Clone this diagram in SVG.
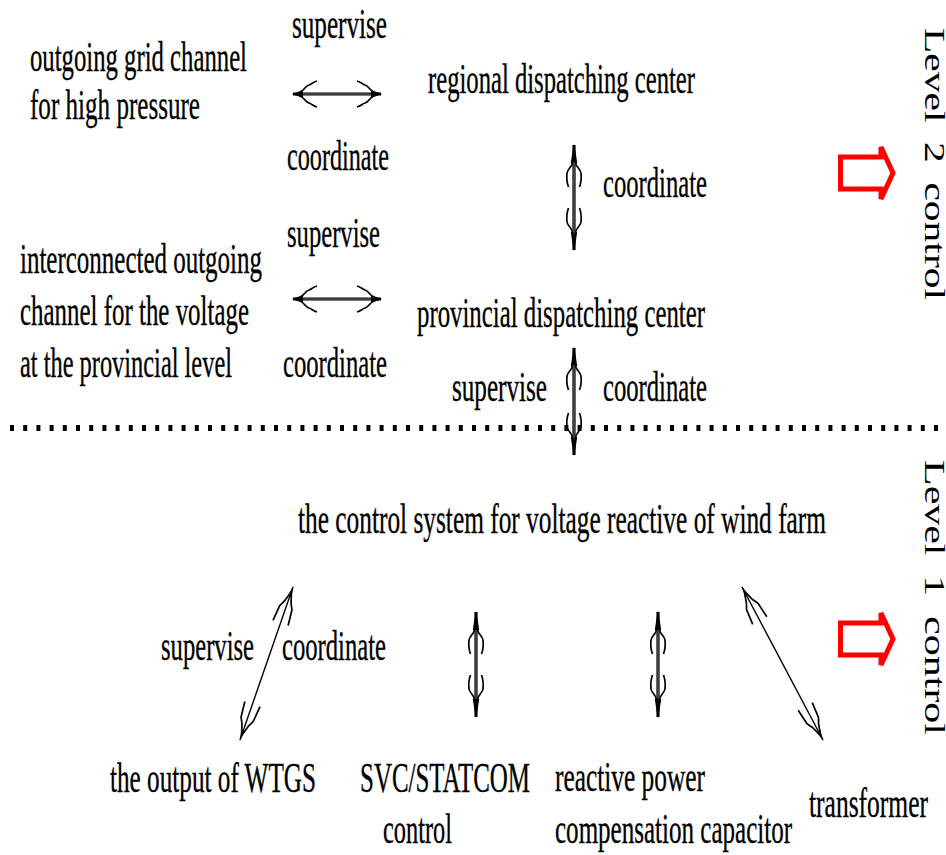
<svg xmlns="http://www.w3.org/2000/svg" width="946" height="855" viewBox="0 0 946 855">
  <defs>
    <style>
      .t { font-family: "Liberation Serif", "Times New Roman", serif; font-size: 43px; fill: #000; stroke: #000; stroke-width: 0.35; }
      .lv { font-family: "Liberation Serif", "Times New Roman", serif; font-size: 45px; fill: #000; word-spacing: 10px; }
      .shaft { stroke: #000; stroke-width: 3.2; fill: none; }
      .core { stroke: #8a8a8a; stroke-width: 0.9; fill: none; }
      .thin { stroke: #000; stroke-width: 1.4; fill: none; }
      .barb { fill: none; stroke: #000; stroke-width: 1.7; }
      .blk { fill: #000; }
      .red { fill: #fff; stroke: #ff0000; stroke-width: 5; stroke-linejoin: miter; }
      .dots { stroke: #000; stroke-width: 6; stroke-dasharray: 4 9.2; fill: none; }
    </style>
    <!-- short, wide head for horizontal double arrows -->
    <marker id="hd" markerUnits="userSpaceOnUse" viewBox="-30 -16 34 32" refX="0" refY="0" markerWidth="34" markerHeight="32" orient="auto-start-reverse" overflow="visible">
      <path class="blk" d="M1,0 L-10,-4 L-10,4 Z"/>
      <path class="barb" d="M-7,-2 C-11,-3 -12,-8 -16,-9 C-19,-10 -20,-12 -24,-13"/>
      <path class="barb" d="M-7,2 C-11,3 -12,8 -16,9 C-19,10 -20,12 -24,13"/>
    </marker>
    <!-- long, narrow head for vertical double arrows -->
    <marker id="vd" markerUnits="userSpaceOnUse" viewBox="-46 -10 50 20" refX="0" refY="0" markerWidth="50" markerHeight="20" orient="auto-start-reverse" overflow="visible">
      <path class="blk" d="M1,0 L-7,-1.6 L-18,-3.2 L-19,0 L-18,3.2 L-7,1.6 Z"/>
      <path class="barb" d="M-18,-1.6 C-22,-2 -24,-6.5 -28,-7 C-33,-7.5 -38,-7 -42,-5.5"/>
      <path class="barb" d="M-18,1.6 C-22,2 -24,6.5 -28,7 C-33,7.5 -38,7 -42,5.5"/>
    </marker>
    <!-- slim head for the diagonal links -->
    <marker id="dd" markerUnits="userSpaceOnUse" viewBox="-44 -10 48 20" refX="0" refY="0" markerWidth="48" markerHeight="20" orient="auto-start-reverse" overflow="visible">
      <path class="blk" d="M1,0 L-10,-2.2 L-10,2.2 Z"/>
      <path class="barb" d="M-8,-1 L-16,-3.5 L-22,-6.5 L-38,-8"/>
      <path class="barb" d="M-8,1 L-16,3.5 L-22,6.5 L-38,8"/>
    </marker>
  </defs>

  <rect width="946" height="855" fill="#fff"/>

  <!-- level separator -->
  <line class="dots" x1="10" y1="428" x2="944" y2="428"/>

  <!-- connectors -->
  <g id="connectors">
    <line class="shaft" x1="293" y1="94" x2="381" y2="94" marker-start="url(#hd)" marker-end="url(#hd)"/>
    <line class="core" x1="303" y1="94" x2="371" y2="94"/>
    <line class="shaft" x1="293" y1="299" x2="381" y2="299" marker-start="url(#hd)" marker-end="url(#hd)"/>
    <line class="core" x1="303" y1="299" x2="371" y2="299"/>

    <line class="shaft" x1="574" y1="145" x2="574" y2="250" marker-start="url(#vd)" marker-end="url(#vd)"/>
    <line class="core" x1="574" y1="162" x2="574" y2="233"/>
    <line class="shaft" x1="574" y1="348" x2="574" y2="455" marker-start="url(#vd)" marker-end="url(#vd)"/>
    <line class="core" x1="574" y1="365" x2="574" y2="438"/>

    <line class="shaft" x1="476" y1="612" x2="476" y2="717" marker-start="url(#vd)" marker-end="url(#vd)"/>
    <line class="core" x1="476" y1="630" x2="476" y2="699"/>
    <line class="shaft" x1="658" y1="612" x2="658" y2="717" marker-start="url(#vd)" marker-end="url(#vd)"/>
    <line class="core" x1="658" y1="630" x2="658" y2="699"/>

    <line class="thin" x1="293" y1="587" x2="240" y2="740" marker-start="url(#dd)" marker-end="url(#dd)"/>
    <line class="thin" x1="742" y1="587" x2="823" y2="740" marker-start="url(#dd)" marker-end="url(#dd)"/>
  </g>

  <!-- upper level -->
  <g id="label-supervise-1"><text class="t" x="292" y="38" textLength="95" lengthAdjust="spacingAndGlyphs">supervise</text></g>
  <g id="node-high-pressure-channel">
    <text class="t" x="30" y="71" textLength="217" lengthAdjust="spacingAndGlyphs">outgoing grid channel</text>
    <text class="t" x="30" y="119" textLength="170" lengthAdjust="spacingAndGlyphs">for high pressure</text>
  </g>
  <g id="node-regional-center"><text class="t" x="428" y="93" textLength="267" lengthAdjust="spacingAndGlyphs">regional dispatching center</text></g>
  <g id="label-coordinate-1"><text class="t" x="287" y="170" textLength="102" lengthAdjust="spacingAndGlyphs">coordinate</text></g>
  <g id="label-coordinate-2"><text class="t" x="603" y="197" textLength="104" lengthAdjust="spacingAndGlyphs">coordinate</text></g>
  <g id="label-supervise-2"><text class="t" x="287" y="247" textLength="93" lengthAdjust="spacingAndGlyphs">supervise</text></g>
  <g id="node-provincial-channel">
    <text class="t" x="20" y="273" textLength="242" lengthAdjust="spacingAndGlyphs">interconnected outgoing</text>
    <text class="t" x="20" y="325" textLength="229" lengthAdjust="spacingAndGlyphs">channel for the voltage</text>
    <text class="t" x="20" y="377" textLength="212" lengthAdjust="spacingAndGlyphs">at the provincial level</text>
  </g>
  <g id="node-provincial-center"><text class="t" x="417" y="327" textLength="288" lengthAdjust="spacingAndGlyphs">provincial dispatching center</text></g>
  <g id="label-coordinate-3"><text class="t" x="283" y="377" textLength="104" lengthAdjust="spacingAndGlyphs">coordinate</text></g>
  <g id="label-supervise-3"><text class="t" x="452" y="401" textLength="95" lengthAdjust="spacingAndGlyphs">supervise</text></g>
  <g id="label-coordinate-4"><text class="t" x="603" y="401" textLength="104" lengthAdjust="spacingAndGlyphs">coordinate</text></g>

  <!-- lower level -->
  <g id="node-wind-farm-control"><text class="t" x="298" y="533" textLength="528" lengthAdjust="spacingAndGlyphs">the control system for voltage reactive of wind farm</text></g>
  <g id="label-supervise-4"><text class="t" x="161" y="660" textLength="93" lengthAdjust="spacingAndGlyphs">supervise</text></g>
  <g id="label-coordinate-5"><text class="t" x="282" y="660" textLength="104" lengthAdjust="spacingAndGlyphs">coordinate</text></g>
  <g id="node-wtgs"><text class="t" x="110" y="792" textLength="206" lengthAdjust="spacingAndGlyphs">the output of WTGS</text></g>
  <g id="node-svc">
    <text class="t" x="360" y="792" textLength="170" lengthAdjust="spacingAndGlyphs">SVC/STATCOM</text>
    <text class="t" x="383" y="843" textLength="69" lengthAdjust="spacingAndGlyphs">control</text>
  </g>
  <g id="node-capacitor">
    <text class="t" x="555" y="791" textLength="150" lengthAdjust="spacingAndGlyphs">reactive power</text>
    <text class="t" x="555" y="843" textLength="237" lengthAdjust="spacingAndGlyphs">compensation capacitor</text>
  </g>
  <g id="node-transformer"><text class="t" x="809" y="817" textLength="119" lengthAdjust="spacingAndGlyphs">transformer</text></g>

  <!-- level markers -->
  <g id="level-2">
    <path class="red" d="M840.5,157 L881,157 L881,147 L893,173 L881,199 L881,189 L840.5,189 Z"/>
    <text class="lv" transform="translate(925,28) scale(0.65,1) rotate(90)" x="0" y="0" textLength="272" lengthAdjust="spacingAndGlyphs">Level 2 control</text>
  </g>
  <g id="level-1">
    <path class="red" d="M840.5,623 L881,623 L881,613 L893,639 L881,665 L881,655 L840.5,655 Z"/>
    <text class="lv" transform="translate(925,460) scale(0.65,1) rotate(90)" x="0" y="0" textLength="275" lengthAdjust="spacingAndGlyphs">Level 1 control</text>
  </g>
</svg>
